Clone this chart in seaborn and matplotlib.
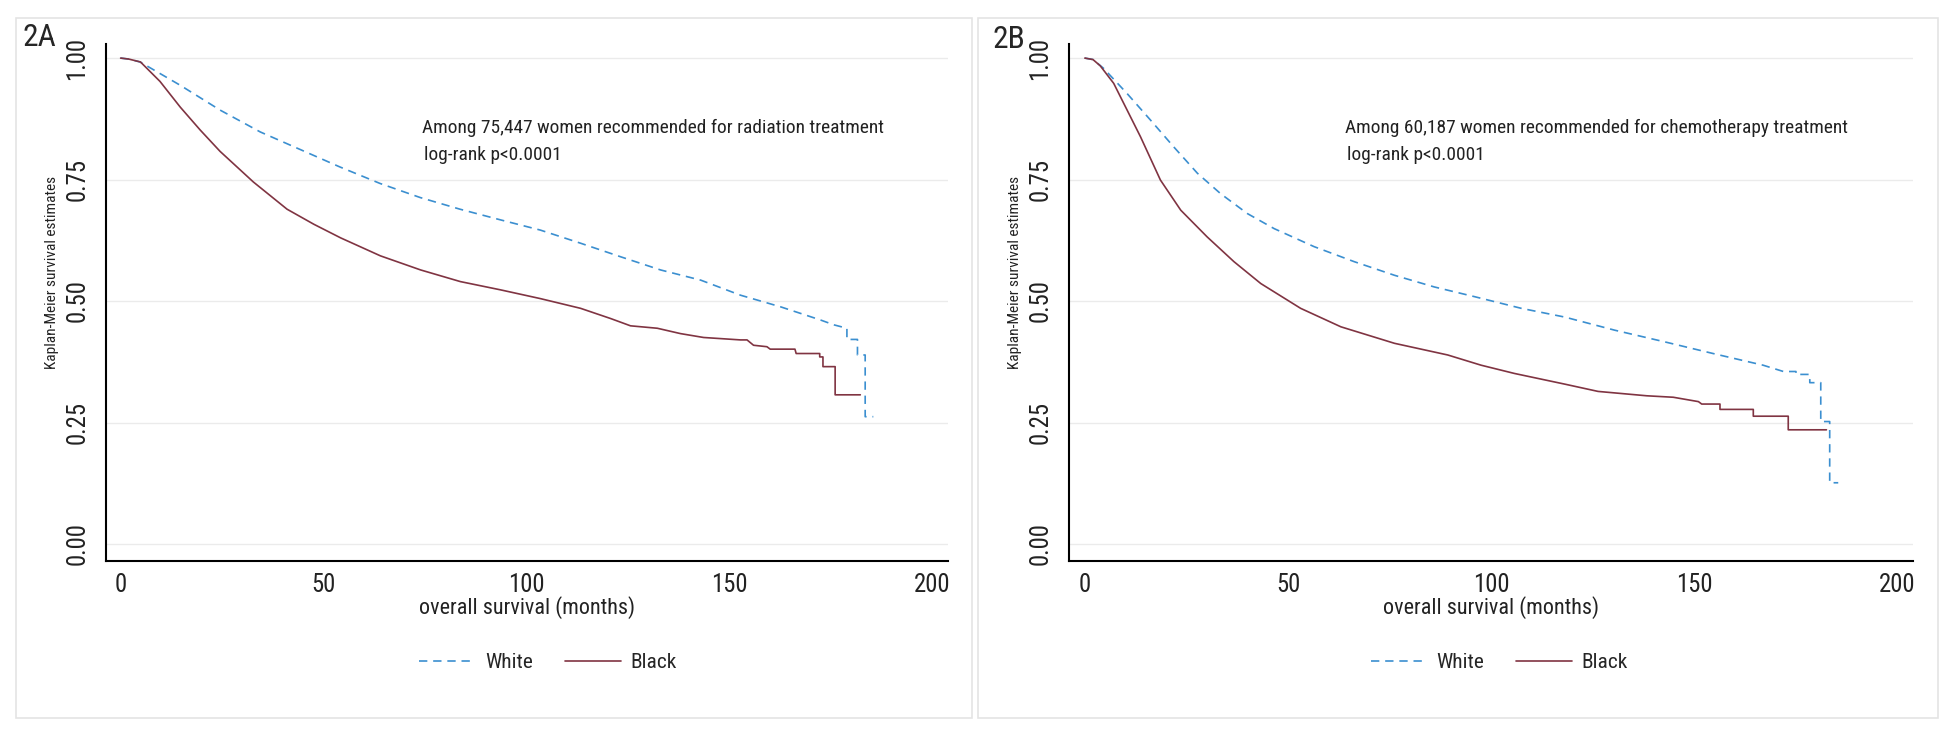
import matplotlib
matplotlib.use('Agg')
import matplotlib.pyplot as plt
from matplotlib import font_manager
from matplotlib.patches import Rectangle
import seaborn as sns

# Panel 2A - radiation treatment (months, KM survival)
a_white_t = [0, 2, 4.8, 14.7, 24.5, 34.4, 44.2, 54.0, 63.9, 73.8, 83.6, 93.6, 103.4, 113.3,
             123.2, 133.0, 142.9, 152.7, 162.6, 172.4, 175.7, 178.9, 178.9, 181.5, 181.5,
             183.4, 183.4, 185.4]
a_white_s = [1.0, 0.998, 0.992, 0.944, 0.893, 0.848, 0.812, 0.776, 0.742, 0.713, 0.689, 0.667,
             0.646, 0.619, 0.591, 0.564, 0.543, 0.512, 0.488, 0.461, 0.451, 0.444, 0.421, 0.421,
             0.389, 0.389, 0.262, 0.262]
a_black_t = [0, 2, 4.9, 9.7, 14.7, 19.6, 24.5, 32.7, 41.0, 47.6, 54.2, 64.0, 73.9, 83.7, 93.6,
             103.4, 113.3, 120.7, 125.6, 132.2, 137.9, 143.6, 152.7, 154.3, 155.9, 159.2, 160.0,
             166.1, 166.4, 172.2, 172.2, 173.0, 173.0, 176.0, 176.0, 182.2]
a_black_s = [1.0, 0.998, 0.992, 0.952, 0.899, 0.852, 0.808, 0.745, 0.689, 0.658, 0.630, 0.593,
             0.564, 0.540, 0.523, 0.505, 0.485, 0.464, 0.449, 0.444, 0.433, 0.425, 0.420, 0.420,
             0.409, 0.406, 0.401, 0.401, 0.392, 0.392, 0.385, 0.385, 0.365, 0.365, 0.307, 0.307]

# Panel 2B - chemotherapy treatment
b_white_t = [0, 2, 4.6, 10.4, 16.2, 21.9, 27.7, 33.4, 40.0, 46.6, 56.4, 66.3, 76.2, 86.0, 95.9,
             107.4, 118.1, 130.4, 142.7, 155.1, 166.9, 171.9, 175.0, 175.0, 178.4, 178.4, 181.1,
             181.1, 183.3, 183.3, 185.4]
b_white_s = [1.0, 0.997, 0.979, 0.927, 0.872, 0.817, 0.763, 0.721, 0.680, 0.649, 0.612, 0.581,
             0.553, 0.529, 0.509, 0.485, 0.467, 0.440, 0.416, 0.391, 0.368, 0.355, 0.355, 0.349,
             0.349, 0.332, 0.332, 0.252, 0.252, 0.126, 0.126]
b_black_t = [0, 2, 3.8, 7.1, 10.4, 13.7, 18.6, 23.6, 30.1, 36.7, 43.3, 53.1, 63.0, 76.2, 89.3,
             97.5, 105.7, 118.1, 126.3, 138.3, 144.8, 151.0, 151.8, 156.3, 156.3, 164.5, 164.5,
             173.1, 173.1, 182.5]
b_black_s = [1.0, 0.997, 0.984, 0.948, 0.893, 0.838, 0.749, 0.687, 0.632, 0.581, 0.536, 0.485,
             0.447, 0.413, 0.389, 0.368, 0.351, 0.329, 0.314, 0.305, 0.302, 0.293, 0.288, 0.288,
             0.277, 0.277, 0.263, 0.263, 0.235, 0.235]

panel_labels = ['2A', '2B']
notes = ['Among 75,447 women recommended for radiation treatment',
         'Among 60,187 women recommended for chemotherapy treatment']
note_x = [74.2, 64.0]
legend_x = [0.525, 0.51]
pvalue_text = 'log-rank p<0.0001'
x_ticks = [0, 50, 100, 150, 200]
y_ticks = [0.0, 0.25, 0.5, 0.75, 1.0]
y_ticklabels = ['0.00', '0.25', '0.50', '0.75', '1.00']

WHITE_C = '#3b8fd0'
BLACK_C = '#803442'

sns.set_style('white')

# Stata-like condensed text: pick a narrow face if one is installed
fonts = font_manager.fontManager.ttflist
names = {f.name for f in fonts}
narrow = 1.0
if 'Liberation Sans Narrow' in names:
    plt.rcParams['font.family'] = ['Liberation Sans Narrow', 'DejaVu Sans']
    narrow = 0.82
elif 'Roboto Condensed' in names:
    plt.rcParams['font.family'] = ['Roboto Condensed', 'DejaVu Sans']
    narrow = 0.85
elif any(f.name == 'DejaVu Sans' and f.stretch == 'condensed' for f in fonts):
    plt.rcParams['font.family'] = ['DejaVu Sans']
    plt.rcParams['font.stretch'] = 'condensed'
    narrow = 0.8
else:
    plt.rcParams['font.family'] = ['Liberation Sans', 'DejaVu Sans']


def fs(size):
    # scale sizes so widths roughly match the narrow reference lettering
    return size / narrow * 0.82


fig = plt.figure(figsize=(19.47, 7.30), dpi=100)

# light frames around each panel
for x0, w in [(16, 956), (978, 960)]:
    fig.add_artist(Rectangle((x0 / 1947, 1 - 718 / 730), w / 1947, 700 / 730,
                             transform=fig.transFigure, fill=False, ec='#e4e4e4', lw=1.2))

axA = fig.add_axes([106 / 1947, 1 - 561 / 730, 842 / 1947, 517 / 730])
axB = fig.add_axes([1069 / 1947, 1 - 561 / 730, 844 / 1947, 517 / 730])

panels = [
    (axA, a_white_t, a_white_s, a_black_t, a_black_s, (-3.6, 203.8)),
    (axB, b_white_t, b_white_s, b_black_t, b_black_s, (-3.9, 203.8)),
]

for i, (ax, wt, ws, bt, bs, xlim) in enumerate(panels):
    sns.lineplot(x=wt, y=ws, estimator=None, sort=False, ax=ax, color=WHITE_C, lw=1.2,
                 linestyle=(0, (5, 3.5)), label='White')
    sns.lineplot(x=bt, y=bs, estimator=None, sort=False, ax=ax, color=BLACK_C, lw=1.2,
                 label='Black')
    ax.set_xlim(*xlim)
    ax.set_ylim(-0.035, 1.029)
    ax.set_xticks(x_ticks)
    ax.set_yticks(y_ticks)
    ax.set_yticklabels(y_ticklabels, rotation=90, va='center')
    ax.tick_params(axis='both', length=7, width=1.3, labelsize=fs(18.5), color='black',
                   labelcolor='#222222')
    ax.tick_params(axis='y', pad=5)
    ax.tick_params(axis='x', pad=2)
    ax.grid(axis='y', color='#ebebeb', lw=1)
    ax.grid(axis='x', visible=False)
    ax.set_axisbelow(True)
    for side in ['top', 'right']:
        ax.spines[side].set_visible(False)
    for side in ['left', 'bottom']:
        ax.spines[side].set_color('black')
        ax.spines[side].set_linewidth(1.5)
    ax.set_xlabel('')
    ax.set_ylabel('')
    ax.text(0.5, -0.09, 'overall survival (months)', transform=ax.transAxes,
            fontsize=fs(16.5), ha='center', va='center', color='#222222')
    ax.text(-0.064, 0.559, 'Kaplan-Meier survival estimates', transform=ax.transAxes,
            rotation=90, ha='center', va='center', fontsize=fs(11.5), color='#222222')
    ax.text(note_x[i], 0.856, notes[i], fontsize=fs(14.5), ha='left', va='center',
            color='#222222')
    ax.text(note_x[i] + 0.5, 0.80, pvalue_text, fontsize=fs(14.5), ha='left', va='center',
            color='#222222')
    ax.legend(loc='center', bbox_to_anchor=(legend_x[i], -0.197), ncol=2, frameon=False,
              fontsize=fs(16), handlelength=2.6, columnspacing=1.5, handletextpad=0.45)

fig.text(23 / 1947, 1 - 37 / 730, panel_labels[0], fontsize=fs(23.5), va='center', ha='left')
fig.text(993 / 1947, 1 - 39 / 730, panel_labels[1], fontsize=fs(23.5), va='center', ha='left')

fig.savefig('out.png', dpi=100)
